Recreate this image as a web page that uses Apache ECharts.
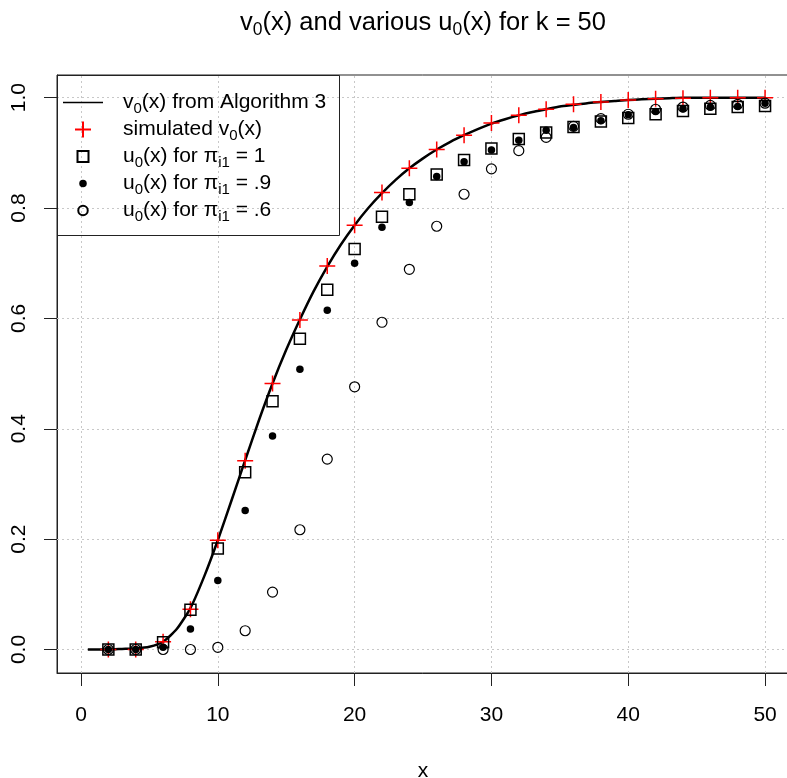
<!DOCTYPE html>
<html><head><meta charset="utf-8">
<script src="https://cdn.jsdelivr.net/npm/echarts@6/dist/echarts.min.js"></script>
<style>html,body{margin:0;padding:0;background:#fff}#c{width:787px;height:778px}</style>
</head><body><div id="c"></div>
<script>
// ---- data ----
const lineX = [0.5,1,2,3,4,5,6,7,8,9,10,11,12,13,14,15,16,17,18,19,20,21,22,23,24,25,26,27,28,29,30,31,32,33,34,35,36,37,38,39,40,41,42,43,44,45,46,47,48,49,50];
const lineY = [0,0,0,0.001,0.002,0.005,0.014,0.037,0.075,0.132,0.198,0.270,0.343,0.415,0.482,0.543,0.598,0.649,0.694,0.734,0.769,0.800,0.827,0.851,0.872,0.890,0.906,0.920,0.932,0.943,0.953,0.961,0.968,0.974,0.979,0.984,0.987,0.990,0.992,0.994,0.996,0.997,0.998,0.999,1,1,1,1,1,1,1];
const pointX = [2,4,6,8,10,12,14,16,18,20,22,24,26,28,30,32,34,36,38,40,42,44,46,48,50];
const simV0 = [0,0,0.014,0.073,0.198,0.342,0.482,0.597,0.695,0.769,0.828,0.872,0.906,0.932,0.954,0.968,0.979,0.988,0.992,0.996,0.998,0.999,1,1,1];
const u0Pi1 = [0,0,0.013,0.072,0.183,0.321,0.450,0.563,0.652,0.726,0.784,0.825,0.861,0.887,0.908,0.925,0.937,0.947,0.957,0.963,0.970,0.976,0.980,0.983,0.985];
const u0Pi09 = [0,0,0.004,0.037,0.125,0.252,0.387,0.508,0.615,0.700,0.765,0.810,0.857,0.884,0.905,0.923,0.941,0.946,0.958,0.969,0.975,0.980,0.983,0.984,0.990];
const u0Pi06 = [0,0,0,0,0.004,0.034,0.104,0.217,0.345,0.476,0.593,0.689,0.767,0.825,0.871,0.904,0.928,0.948,0.962,0.970,0.979,0.983,0.986,0.988,0.990];
const xTicks = [0,10,20,30,40,50];
const yTicks = [0,0.2,0.4,0.6,0.8,1.0];
const seriesNames = ['v0(x) from Algorithm 3','simulated v0(x)','u0(x) for pi_i1 = 1','u0(x) for pi_i1 = .9','u0(x) for pi_i1 = .6'];
const legendRich = [
  '{sp| }{t|v}{s|0}{t|(x) from Algorithm 3}',
  '{sp| }{t|simulated v}{s|0}{t|(x)}',
  '{sp| }{t|u}{s|0}{t|(x) for π}{s|i1}{t| = 1}',
  '{sp| }{t|u}{s|0}{t|(x) for π}{s|i1}{t| = .9}',
  '{sp| }{t|u}{s|0}{t|(x) for π}{s|i1}{t| = .6}'
];
const titleRich = '{t|v}{s|0}{t|(x) and various u}{s|0}{t|(x) for k = 50}';

// ---- chart ----
const FONT = 'Liberation Sans, Arial, sans-serif';
const pairs = (xs, ys) => xs.map((x, i) => [x, ys[i]]);
const chart = echarts.init(document.getElementById('c'));
const gridLineData = xTicks.map(v => ({xAxis: v})).concat(yTicks.map(v => ({yAxis: v})));
const PLUS = 'path://M0,8H16M8,0V16';

chart.setOption({
  animation: false,
  backgroundColor: '#fff',
  graphic: [
    {type: 'text', x: 423, y: 23, z: 10,
     style: {text: titleRich, align: 'center', verticalAlign: 'middle',
       rich: {t: {fontSize: 25.5, fontFamily: FONT, fill: '#000', lineHeight: 32},
              s: {fontSize: 17.5, fontFamily: FONT, fill: '#000', lineHeight: 32, padding: [14, 0, 0, 0]}}}},
    {type: 'rect', z: 10, shape: {x: 57.5, y: 75.5, width: 282, height: 160},
     style: {fill: 'none', stroke: '#222', lineWidth: 1}}
  ],
  grid: {left: 57, top: 75, width: 732, bottom: 105, show: true, borderColor: '#222', borderWidth: 1,
         containLabel: false, outerBoundsMode: 'none'},
  legend: {
    orient: 'vertical', left: 63, top: 89, padding: 0, itemGap: 0,
    itemWidth: 40, itemHeight: 16, selectedMode: false,
    data: [
      {name: seriesNames[0], icon: 'path://M0,0H40V1.6H0Z'},
      {name: seriesNames[1], icon: PLUS},
      {name: seriesNames[2], icon: 'path://M0,0M16,16M2.5,2.5H13.5V13.5H2.5Z'},
      {name: seriesNames[3], icon: 'path://M0,0M16,16M11.75,8A3.75,3.75,0,1,1,4.25,8A3.75,3.75,0,1,1,11.75,8Z'},
      {name: seriesNames[4], icon: 'path://M0,0M16,16M12.75,8A4.75,4.75,0,1,1,3.25,8A4.75,4.75,0,1,1,12.75,8Z'}
    ],
    formatter: name => legendRich[seriesNames.indexOf(name)],
    textStyle: {
      rich: {
        sp: {width: 15, fontSize: 21, lineHeight: 27},
        t: {fontSize: 21, fontFamily: FONT, color: '#000', lineHeight: 27},
        s: {fontSize: 15, fontFamily: FONT, color: '#000', lineHeight: 27, padding: [12, 0, 0, 0]}
      }
    }
  },
  xAxis: {
    type: 'value', min: -1.754, max: 51.75,
    name: 'x', nameLocation: 'middle', nameGap: 88,
    nameTextStyle: {fontSize: 21, fontFamily: FONT, color: '#000'},
    axisLine: {show: true, onZero: false, lineStyle: {color: '#222', width: 1}},
    axisTick: {show: true, inside: false, length: 13, customValues: xTicks, lineStyle: {color: '#222', width: 1}},
    axisLabel: {customValues: xTicks, margin: 32, fontSize: 21, fontFamily: FONT, color: '#000'},
    splitLine: {show: false}
  },
  yAxis: {
    type: 'value', min: -0.0426, max: 1.0411,
    axisLine: {show: true, onZero: false, lineStyle: {color: '#222', width: 1}},
    axisTick: {show: true, inside: false, length: 13, customValues: yTicks, lineStyle: {color: '#222', width: 1}},
    axisLabel: {customValues: yTicks, rotate: 90, margin: 27, fontSize: 21, fontFamily: FONT, color: '#000',
      formatter: v => v.toFixed(1)},
    splitLine: {show: false}
  },
  series: [
    {name: seriesNames[0], type: 'line', data: pairs(lineX, lineY), symbol: 'none', showSymbol: false,
     smooth: 0.2, lineStyle: {color: '#000', width: 2.5}, itemStyle: {color: '#000'}, z: 2,
     markLine: {silent: true, z: 1, symbol: ['none', 'none'], label: {show: false},
       lineStyle: {color: '#c8c8c8', type: [2, 3], width: 1}, emphasis: {disabled: true},
       data: gridLineData}},
    {name: seriesNames[1], type: 'scatter', data: pairs(pointX, simV0), symbol: PLUS, symbolSize: 16, z: 3,
     itemStyle: {color: '#ff0000', borderColor: '#ff0000', borderWidth: 1.5, opacity: 1}},
    {name: seriesNames[2], type: 'scatter', data: pairs(pointX, u0Pi1), symbol: 'rect', symbolSize: 11, z: 4,
     itemStyle: {color: 'rgba(0,0,0,0)', borderColor: '#000', borderWidth: 1.5, opacity: 1}},
    {name: seriesNames[3], type: 'scatter', data: pairs(pointX, u0Pi09), symbol: 'circle', symbolSize: 7.5, z: 5,
     itemStyle: {color: '#000', borderColor: '#000', borderWidth: 0, opacity: 1}},
    {name: seriesNames[4], type: 'scatter', data: pairs(pointX, u0Pi06), symbol: 'circle', symbolSize: 10, z: 6,
     itemStyle: {color: 'rgba(0,0,0,0)', borderColor: '#000', borderWidth: 1.2, opacity: 1}}
  ]
});
</script></body></html>
